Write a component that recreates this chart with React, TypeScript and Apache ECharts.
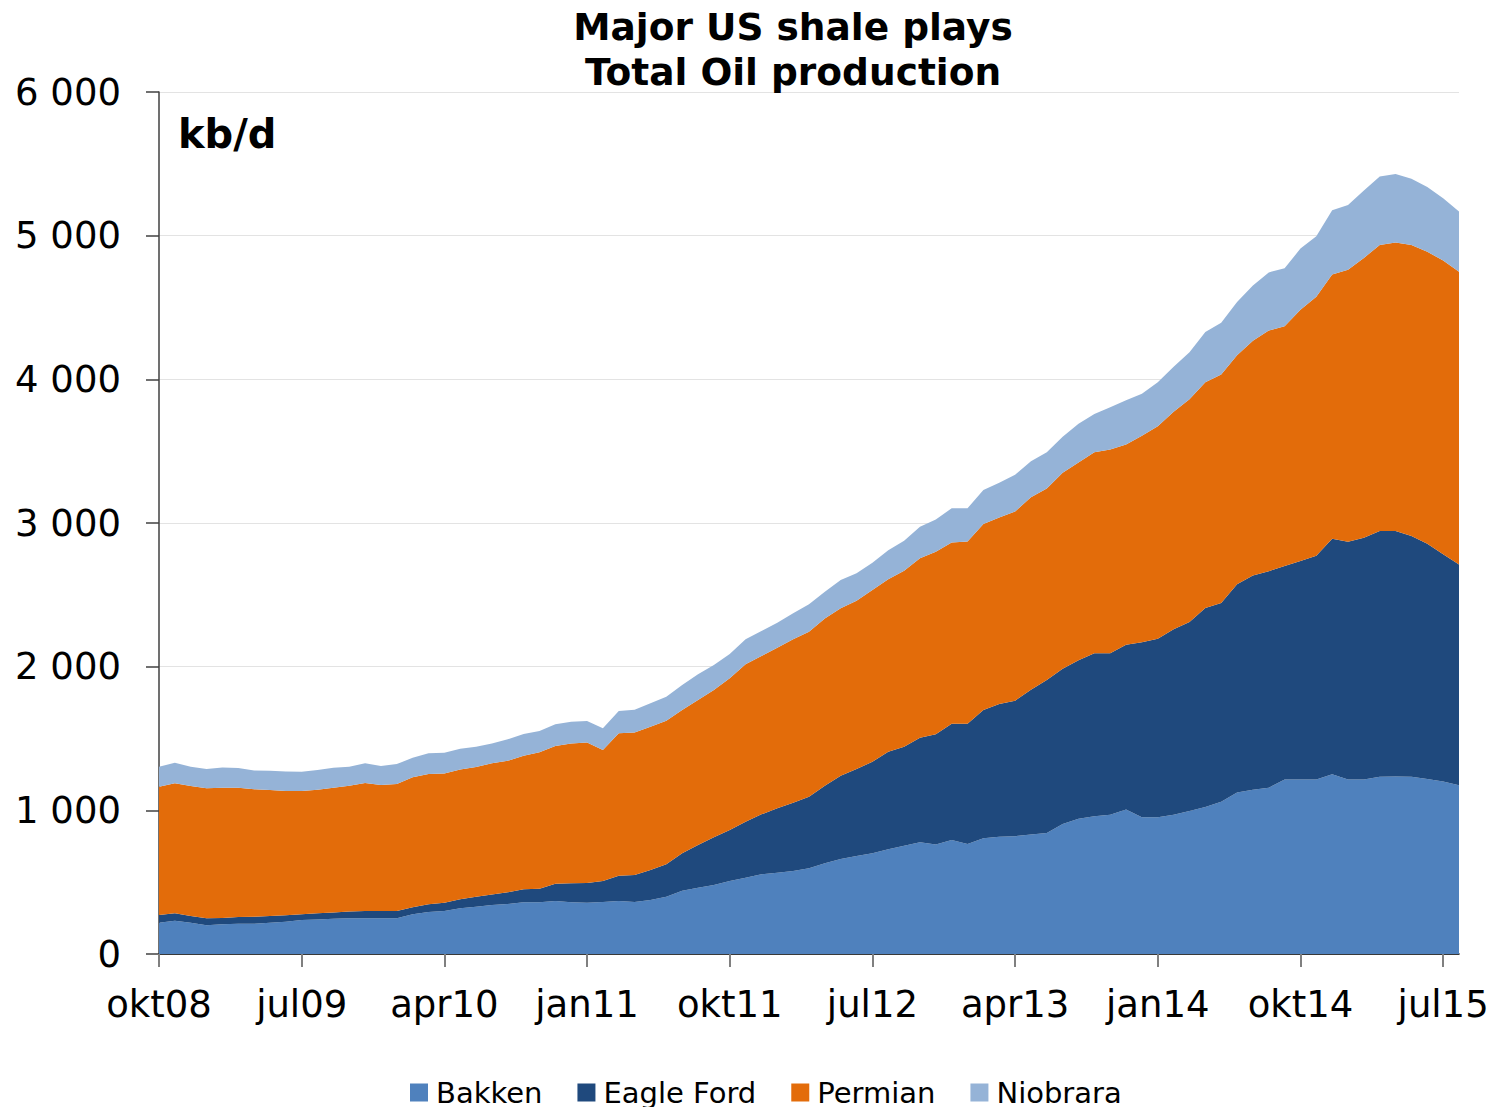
import React, { useEffect, useRef } from "react";
import * as echarts from "echarts";

const monthNames = ["jan", "feb", "mar", "apr", "mai", "jun", "jul", "aug", "sep", "okt", "nov", "des"];
// okt08 .. aug15 (83 months)
const categories: string[] = [];
for (let k = 0; k < 83; k++) {
  const m = (9 + k) % 12;
  const y = 8 + Math.floor((9 + k) / 12);
  categories.push(monthNames[m] + String(y).padStart(2, "0"));
}

const bakken = [
  218, 232, 218, 200, 207, 210, 210, 218, 225, 237, 241, 246, 248, 248, 248, 248, 276, 292, 300, 318,
  329, 341, 348, 360, 360, 369, 360, 357, 362, 369, 362, 376, 399, 441, 462, 480, 508, 531, 555, 566,
  578, 596, 631, 661, 682, 701, 729, 754, 777, 763, 793, 766, 805, 816, 820, 832, 843, 905, 941, 959,
  970, 1006, 952, 952, 970, 995, 1024, 1060, 1125, 1143, 1157, 1215, 1215, 1215, 1251, 1215, 1215, 1233, 1236, 1233,
  1218, 1200, 1175,
];
const eagleFord = [
  53, 51, 46, 48, 44, 48, 50, 46, 44, 39, 42, 42, 47, 52, 52, 52, 49, 54, 57, 63,
  70, 74, 81, 90, 95, 120, 132, 137, 146, 176, 188, 209, 225, 260, 297, 332, 355, 390, 417, 448,
  475, 499, 540, 580, 606, 637, 679, 689, 728, 766, 810, 837, 893, 924, 943, 1008, 1064, 1081, 1103, 1135,
  1124, 1146, 1218, 1243, 1290, 1316, 1384, 1384, 1449, 1492, 1507, 1485, 1521, 1557, 1640, 1654, 1683, 1712, 1709, 1676,
  1637, 1583, 1536,
];
const permian = [
  893, 905, 905, 905, 906, 899, 886, 877, 865, 858, 861, 869, 876, 890, 876, 883, 905, 907, 900, 904,
  902, 912, 916, 930, 949, 959, 974, 979, 912, 991, 991, 997, 1000, 997, 1009, 1025, 1056, 1095, 1102, 1118,
  1137, 1148, 1165, 1165, 1171, 1195, 1200, 1225, 1249, 1271, 1262, 1269, 1295, 1299, 1317, 1340, 1334, 1363, 1377, 1399,
  1417, 1395, 1438, 1478, 1514, 1550, 1572, 1590, 1593, 1633, 1676, 1669, 1748, 1803, 1839, 1893, 1947, 1990, 2008, 2026,
  2033, 2044, 2037,
];
const niobrara = [
  140, 143, 135, 135, 142, 137, 132, 135, 137, 135, 137, 140, 133, 137, 132, 139, 136, 144, 144, 144,
  142, 139, 149, 151, 148, 151, 151, 148, 151, 155, 159, 163, 167, 174, 179, 174, 169, 174, 174, 174,
  181, 191, 186, 197, 191, 191, 202, 209, 220, 225, 237, 230, 236, 241, 255, 250, 252, 252, 270, 265,
  295, 307, 292, 307, 314, 328, 349, 360, 372, 386, 404, 404, 426, 421, 447, 451, 469, 476, 476, 462,
  451, 433, 421,
];

const seriesNames = ["Bakken", "Eagle Ford", "Permian", "Niobrara"];
const seriesColors = ["#4F81BD", "#1F497D", "#E36C0A", "#95B3D7"];
const seriesData = [bakken, eagleFord, permian, niobrara];

const FONT = "DejaVu Sans, Verdana, sans-serif";

export default function App() {
  const ref = useRef<HTMLDivElement>(null);
  useEffect(() => {
    document.body.style.margin = "0";
    if (!ref.current) return;
    const chart = echarts.init(ref.current, null, { renderer: "svg" });
    chart.setOption({
      animation: false,
      backgroundColor: "#ffffff",
      title: {
        text: "Major US shale plays\nTotal Oil production",
        left: 793,
        top: 4,
        textAlign: "center",
        padding: 0,
        textStyle: { fontFamily: FONT, fontSize: 37.5, fontWeight: "bold", color: "#000", lineHeight: 45 },
      },
      graphic: [
        {
          type: "text",
          x: 178,
          y: 134,
          style: {
            text: "kb/d",
            fill: "#000",
            font: "bold 40px " + FONT,
            verticalAlign: "middle",
            align: "left",
          },
        },
      ],
      legend: {
        data: seriesNames,
        left: 410,
        top: 1078,
        padding: 0,
        icon: "rect",
        itemWidth: 18,
        itemHeight: 18,
        itemGap: 35,
        textStyle: { fontFamily: FONT, fontSize: 29, color: "#000", padding: [0, 0, 0, 3] },
      },
      grid: { left: 159, right: 42, top: 92, bottom: 153, containLabel: false },
      xAxis: {
        type: "category",
        boundaryGap: false,
        data: categories,
        axisLine: { lineStyle: { color: "#000", width: 1.5 } },
        axisTick: { interval: 8, length: 13, lineStyle: { color: "#808080", width: 2 } },
        axisLabel: { interval: 8, fontFamily: FONT, fontSize: 37, color: "#000", margin: 32 },
        splitLine: { show: false },
      },
      yAxis: {
        type: "value",
        min: 0,
        max: 6000,
        interval: 1000,
        axisLine: { show: true, lineStyle: { color: "#404040", width: 1.5 } },
        axisTick: { show: true, length: 13, lineStyle: { color: "#404040", width: 1.5 } },
        axisLabel: {
          fontFamily: FONT,
          fontSize: 37,
          color: "#000",
          margin: 38,
          formatter: (v: number) => String(v).replace(/\B(?=(\d{3})+(?!\d))/g, " "),
        },
        splitLine: { show: true, lineStyle: { color: "#E3E3E3", width: 1 } },
      },
      series: seriesNames.map((name, idx) => ({
        name,
        type: "line",
        stack: "total",
        data: seriesData[idx],
        symbol: "none",
        showSymbol: false,
        lineStyle: { width: 0 },
        itemStyle: { color: seriesColors[idx] },
        areaStyle: { color: seriesColors[idx], opacity: 1 },
        emphasis: { disabled: true },
      })),
    });
    return () => chart.dispose();
  }, []);
  return <div ref={ref} style={{ width: 1501, height: 1107 }} />;
}
